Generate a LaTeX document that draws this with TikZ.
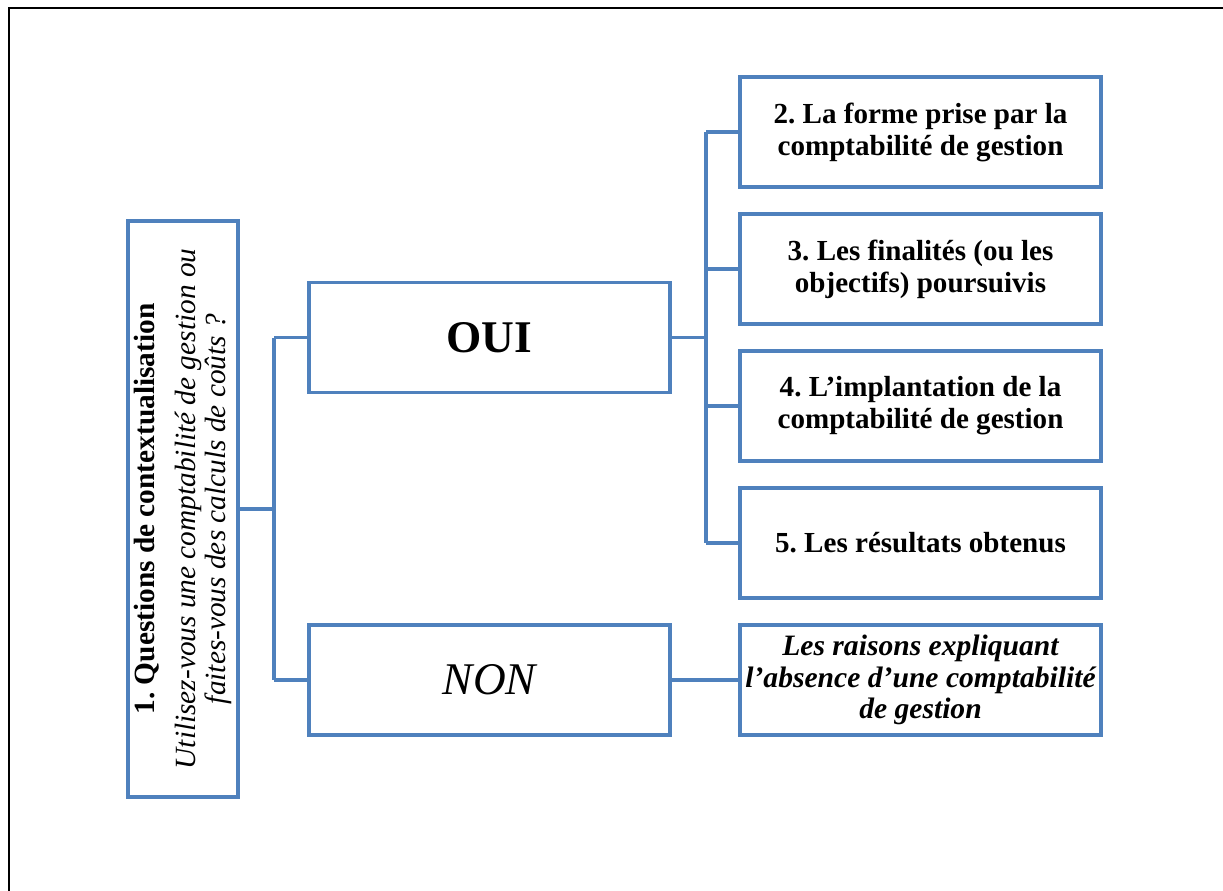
\documentclass[tikz,border=0pt]{standalone}
\usepackage{fontspec}
\setmainfont{Liberation Serif}
\usetikzlibrary{positioning}
\definecolor{boxblue}{HTML}{4F81BD}
\frenchspacing

\tikzset{
	box/.style={draw=boxblue, line width=2.3pt, fill=white, align=center, inner sep=2pt,
		minimum width=270.75pt, minimum height=82.5pt},
	boxtext/.style={font=\fontsize{21.8}{24}\selectfont\bfseries},
	link/.style={draw=boxblue, line width=2.3pt}
}

\begin{document}
\begin{tikzpicture}[x=0.75pt, y=-0.75pt]
		
		\useasboundingbox (0,0) rectangle (1223,891);
		\draw[line width=1.8pt] (9,900) -- (9,8) -- (1240,8);
		
		% left box
		\node[box, rotate=90, minimum width=432pt, minimum height=82.5pt,
			font=\fontsize{22}{22.5}\selectfont] (ctx) at (183,509)
			{\textbf{1. Questions de contextualisation}\\[8pt]
			\textit{Utilisez-vous une comptabilité de gestion ou}\\
			\textit{faites-vous des calculs de coûts ?}};
		
		\node[box, font=\fontsize{34}{36}\selectfont\bfseries] (oui) at (489.5,337.5) {OUI};
		\node[box, font=\fontsize{34}{36}\selectfont\itshape] (non) at (489.5,680) {NON};
		
		\node[box, boxtext] (forme) at (920.5,132) {2. La forme prise par la\\comptabilité de gestion};
		\node[box, boxtext] (finalites) at (920.5,269) {3. Les finalités (ou les\\objectifs) poursuivis};
		\node[box, boxtext] (implant) at (920.5,406) {4. L’implantation de la\\comptabilité de gestion};
		\node[box, boxtext] (result) at (920.5,543) {5. Les résultats obtenus};
		\node[box, font=\fontsize{22.2}{23.5}\selectfont\bfseries\itshape] (raisons) at (920.5,680)
			{Les raisons expliquant\\l’absence d’une comptabilité\\de gestion};
		
		% connectors
		\coordinate (jctx) at (274,509);
		\coordinate (joui) at (706,337.5);
		\draw[link] (ctx.south) -- (jctx);
		\draw[link] (jctx |- oui.west) -- (jctx |- non.west);
		\draw[link] (jctx |- oui.west) -- (oui.west);
		\draw[link] (jctx |- non.west) -- (non.west);
		\draw[link] (oui.east) -- (joui);
		\draw[link] (joui |- forme.west) -- (joui |- result.west);
		\foreach \n in {forme, finalites, implant, result}
			\draw[link] (joui |- \n.west) -- (\n.west);
		\draw[link] (non.east) -- (raisons.west);
		
\end{tikzpicture}
\end{document}
